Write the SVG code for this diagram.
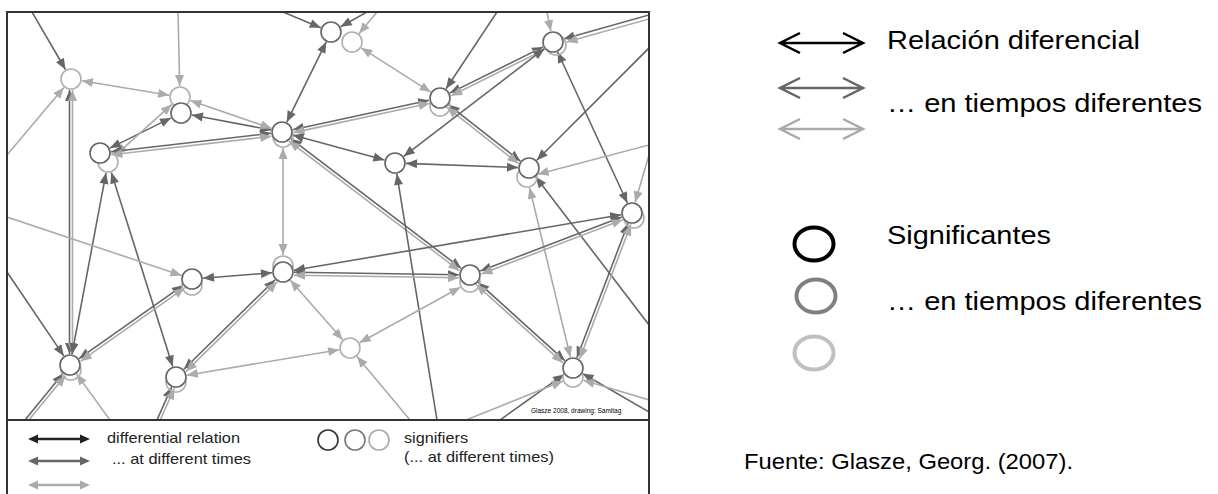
<svg xmlns="http://www.w3.org/2000/svg" width="1218" height="494" viewBox="0 0 1218 494">
<defs>
<style>
.d{stroke:#666;stroke-width:1.6;fill:none}
.l{stroke:#ababab;stroke-width:1.6;fill:none}
.bd{marker-start:url(#ad);marker-end:url(#ad)}
.ed{marker-end:url(#ad)}
.bl{marker-start:url(#al);marker-end:url(#al)}
.el{marker-end:url(#al)}
.nd{fill:#fff;stroke:#666;stroke-width:1.6}
.nl{fill:none;stroke:#b0b0b0;stroke-width:1.6}
.t{font-family:"Liberation Sans",Arial,sans-serif;fill:#000}
.tb{font-family:"Liberation Sans",Arial,sans-serif;fill:#222;font-size:15px}
</style>
<marker id="ad" markerUnits="userSpaceOnUse" markerWidth="10" markerHeight="10" refX="0" refY="0" orient="auto-start-reverse" overflow="visible"><path d="M-11,-4.5 L0,0 L-11,4.5 z" fill="#666"/></marker>
<marker id="al" markerUnits="userSpaceOnUse" markerWidth="10" markerHeight="10" refX="0" refY="0" orient="auto-start-reverse" overflow="visible"><path d="M-11,-4.5 L0,0 L-11,4.5 z" fill="#ababab"/></marker>
<clipPath id="gc"><rect x="8" y="13" width="640" height="406"/></clipPath>
</defs>
<rect width="1218" height="494" fill="#fff"/>

<g id="connectors" clip-path="url(#gc)">
<path class="d ed" d="M32,12 L65.5,69.5"/>
<path class="l el" d="M7,155 L63.9,87.4"/>
<path class="l el" d="M178,12 L179.7,86"/>
<path class="l bl" d="M81.8,80.8 L169.2,95.2"/>
<path class="d bd" d="M69.5,90 L69.5,354"/>
<path class="l bl" d="M72.5,90 L72.5,354"/>
<path class="d bd" d="M171.1,117.9 L109.9,148.1"/>
<path class="l bl" d="M171.8,104.4 L116.2,154.6"/>
<path class="d bd" d="M191.8,115 L271.2,130"/>
<path class="l bl" d="M190.4,100.6 L271.6,128.4"/>
<path class="d bd" d="M110.9,151.7 L271.1,133.3"/>
<path class="l bl" d="M111.3,154.7 L271.4,136.3"/>
<path class="d bd" d="M106,172.8 L72,354.2"/>
<path class="d bd" d="M111.3,172.5 L172.7,366.5"/>
<path class="d ed" d="M283,12 L320.8,27.8"/>
<path class="d ed" d="M367,12 L340.6,26.7"/>
<path class="l el" d="M377,12 L359.1,33.5"/>
<path class="d bd" d="M326.2,41.9 L286.8,122.1"/>
<path class="l bl" d="M361.3,47.9 L430.7,92.1"/>
<path class="d ed" d="M497,12 L446.1,88.8"/>
<path class="d bd" d="M429.2,100.3 L292.8,129.7"/>
<path class="l bl" d="M429.8,103.2 L293.4,132.6"/>
<path class="d bd" d="M449.9,93.1 L543.1,46.9"/>
<path class="l bl" d="M451.2,95.8 L544.4,49.6"/>
<path class="d bd" d="M448.6,104.8 L520.4,161.2"/>
<path class="l bl" d="M446.7,107.2 L518.5,163.6"/>
<path class="d bd" d="M292.6,134.9 L384.4,160.1"/>
<path class="l bl" d="M283,148 L283,255"/>
<path class="d bd" d="M290.8,138.7 L461.2,268.3"/>
<path class="l bl" d="M289,141.1 L459.4,270.7"/>
<path class="d bd" d="M406,163.4 L518,167.6"/>
<path class="d bd" d="M544.3,48.7 L403.7,156.3"/>
<path class="l el" d="M547,12 L550.8,31.2"/>
<path class="d ed" d="M649,15 L563.6,39"/>
<path class="l el" d="M649,19 L566.6,42"/>
<path class="d bd" d="M557.6,52 L627.4,203"/>
<path class="d ed" d="M649,48 L536.8,160.2"/>
<path class="l el" d="M649,145 L537.6,174.2"/>
<path class="l el" d="M649,155 L635.1,202.4"/>
<path class="d ed" d="M437,420 L396.8,173.9"/>
<path class="l bl" d="M529.6,187.7 L570.4,357.3"/>
<path class="d ed" d="M649,325 L535.7,176.7"/>
<path class="d bd" d="M621.2,214.8 L293.8,270.2"/>
<path class="d bd" d="M621.7,216.9 L480.3,271.1"/>
<path class="l bl" d="M622.8,219.7 L481.4,273.9"/>
<path class="d bd" d="M628.1,223.3 L576.9,357.7"/>
<path class="l bl" d="M630.9,224.4 L579.7,358.8"/>
<path class="l el" d="M7,217 L181.6,275.5"/>
<path class="d bd" d="M183,285.3 L79,358.7"/>
<path class="l bl" d="M184.7,287.8 L80.7,361.2"/>
<path class="d bd" d="M203,278.2 L272,272.8"/>
<path class="d ed" d="M7,272 L63.8,355.9"/>
<path class="d ed" d="M25,420 L63,373.5"/>
<path class="l el" d="M28,421 L65.5,375.5"/>
<path class="l el" d="M110,420 L76.5,373.9"/>
<path class="d ed" d="M157,420 L171.6,387.1"/>
<path class="l el" d="M159.7,421.2 L174.3,388.3"/>
<path class="d bd" d="M183.9,369.3 L275.1,279.7"/>
<path class="l bl" d="M186,371.4 L277.2,281.8"/>
<path class="l bl" d="M186.8,375.2 L339.2,349.8"/>
<path class="l bl" d="M290.3,280.3 L342.7,339.8"/>
<path class="d bd" d="M294,272.2 L459,274.8"/>
<path class="l bl" d="M294,275.2 L459,277.8"/>
<path class="l bl" d="M359.6,342.7 L460.4,287.3"/>
<path class="l el" d="M410,420 L357,356.4"/>
<path class="d bd" d="M478.2,282.4 L564.8,360.6"/>
<path class="l bl" d="M476.2,284.6 L562.8,362.8"/>
<path class="d ed" d="M500,420 L564,374.4"/>
<path class="l el" d="M466,420 L562.8,381.1"/>
<path class="d ed" d="M649,412 L582.5,373.5"/>
<path class="l el" d="M649,400 L583.5,380.2"/>
</g>

<g id="node-A"><circle class="nl" cx="71" cy="79" r="10"/></g>
<g id="node-B"><circle class="nl" cx="180" cy="97" r="10"/><circle class="nd" cx="181" cy="113" r="10"/></g>
<g id="node-C"><circle class="nl" cx="108" cy="162" r="10"/><circle class="nd" cx="100" cy="153" r="10"/></g>
<g id="node-D"><circle class="nl" cx="283" cy="137" r="10"/><circle class="nd" cx="282" cy="132" r="10"/></g>
<g id="node-E"><circle class="nl" cx="352" cy="42" r="10"/><circle class="nd" cx="331" cy="32" r="10"/></g>
<g id="node-F"><circle class="nl" cx="440" cy="106" r="10"/><circle class="nd" cx="440" cy="98" r="10"/></g>
<g id="node-G"><circle class="nd" cx="395" cy="163" r="10"/></g>
<g id="node-H"><circle class="nl" cx="556" cy="45" r="10"/><circle class="nd" cx="553" cy="42" r="10"/></g>
<g id="node-I"><circle class="nl" cx="527" cy="177" r="10"/><circle class="nd" cx="529" cy="168" r="10"/></g>
<g id="node-J"><circle class="nl" cx="634" cy="218" r="10"/><circle class="nd" cx="632" cy="213" r="10"/></g>
<g id="node-K"><circle class="nl" cx="192" cy="285" r="10"/><circle class="nd" cx="192" cy="279" r="10"/></g>
<g id="node-L"><circle class="nl" cx="283" cy="266" r="10"/><circle class="nd" cx="283" cy="272" r="10"/></g>
<g id="node-M"><circle class="nl" cx="470" cy="282" r="10"/><circle class="nd" cx="470" cy="275" r="10"/></g>
<g id="node-N"><circle class="nl" cx="350" cy="348" r="10"/></g>
<g id="node-O"><circle class="nl" cx="71" cy="370" r="10"/><circle class="nd" cx="70" cy="365" r="10"/></g>
<g id="node-P"><circle class="nl" cx="176" cy="382" r="10"/><circle class="nd" cx="176" cy="377" r="10"/></g>
<g id="node-Q"><circle class="nl" cx="573" cy="377" r="10"/><circle class="nd" cx="573" cy="368" r="10"/></g>

<g id="frame">
<path d="M7,494 V12 H649 V494" fill="none" stroke="#333" stroke-width="2"/>
<path d="M7,420 H649" stroke="#333" stroke-width="2"/>
<g clip-path="url(#gc)"><text class="t" x="531" y="413" font-size="6.5">Glasze 2008, drawing: Samitag</text></g>
</g>

<g id="legend-bottom">
<path d="M36,439 H82" stroke="#222" stroke-width="2.5"/><path d="M28,439 L38,434.5 L38,443.5 z M90,439 L80,434.5 L80,443.5 z" fill="#222"/>
<path d="M36,461 H82" stroke="#666" stroke-width="2.5"/><path d="M28,461 L38,456.5 L38,465.5 z M90,461 L80,456.5 L80,465.5 z" fill="#666"/>
<path d="M36,485 H82" stroke="#aaa" stroke-width="2.5"/><path d="M28,485 L38,480.5 L38,489.5 z M90,485 L80,480.5 L80,489.5 z" fill="#aaa"/>
<text class="tb" x="107" y="443" textLength="133" lengthAdjust="spacingAndGlyphs">differential relation</text>
<text class="tb" x="112" y="464" textLength="139" lengthAdjust="spacingAndGlyphs">... at different times</text>
<circle cx="328" cy="440" r="10" fill="none" stroke="#333" stroke-width="1.6"/>
<circle cx="355" cy="440" r="10" fill="none" stroke="#777" stroke-width="1.6"/>
<circle cx="379" cy="440" r="10" fill="none" stroke="#aaa" stroke-width="1.6"/>
<text class="tb" x="404" y="443" textLength="64" lengthAdjust="spacingAndGlyphs">signifiers</text>
<text class="tb" x="404" y="462" textLength="150" lengthAdjust="spacingAndGlyphs">(... at different times)</text>
</g>

<g id="legend-right">
<path d="M780,43 H863 M800,33 L780,43 L800,53 M843,33 L863,43 L843,53" stroke="#000" stroke-width="2.5" fill="none"/>
<path d="M780,88 H863 M800,78 L780,88 L800,98 M843,78 L863,88 L843,98" stroke="#666" stroke-width="2.5" fill="none"/>
<path d="M780,129 H863 M800,119 L780,129 L800,139 M843,119 L863,129 L843,139" stroke="#aaa" stroke-width="2.5" fill="none"/>
<text class="t" x="887" y="49" font-size="25" textLength="253" lengthAdjust="spacingAndGlyphs">Relación diferencial</text>
<text class="t" x="887" y="112" font-size="26" textLength="315" lengthAdjust="spacingAndGlyphs">… en tiempos diferentes</text>
<ellipse cx="814" cy="244" rx="19.5" ry="16.5" fill="none" stroke="#000" stroke-width="4"/>
<ellipse cx="816" cy="296" rx="19.5" ry="16.5" fill="none" stroke="#808080" stroke-width="4"/>
<ellipse cx="814" cy="353" rx="19.5" ry="16.5" fill="none" stroke="#c0c0c0" stroke-width="4"/>
<text class="t" x="887" y="244" font-size="26" textLength="164" lengthAdjust="spacingAndGlyphs">Significantes</text>
<text class="t" x="887" y="310" font-size="26" textLength="315" lengthAdjust="spacingAndGlyphs">… en tiempos diferentes</text>
<text class="t" x="744" y="469" font-size="22" textLength="329" lengthAdjust="spacingAndGlyphs">Fuente: Glasze, Georg. (2007).</text>
</g>
</svg>
